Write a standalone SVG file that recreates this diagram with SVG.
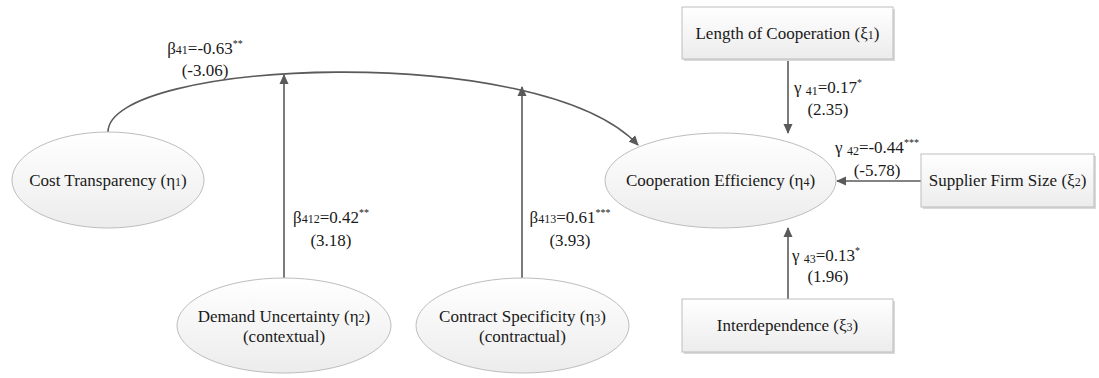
<svg xmlns="http://www.w3.org/2000/svg" width="1099" height="378" viewBox="0 0 1099 378">
<style>
text{font-family:'Liberation Serif','Times New Roman',serif;font-size:17px;fill:#1a1a1a;text-anchor:middle}
.sub{font-size:12px}
.sup{font-size:10px}
.node{fill:url(#g);stroke:#bdbdbd;stroke-width:1}
.shadow{fill:#d9d9d9}
.conn{fill:none;stroke:#5a5a5a;stroke-width:1.6}
</style>
<defs>
<linearGradient id="g" x1="0" y1="0" x2="0" y2="1">
<stop offset="0" stop-color="#ffffff"/>
<stop offset="1" stop-color="#ececec"/>
</linearGradient>
<marker id="a" markerWidth="10" markerHeight="10" refX="9" refY="5" orient="auto" markerUnits="userSpaceOnUse">
<path d="M0,0.5 L10,5 L0,9.5 Z" fill="#5a5a5a"/>
</marker>
</defs>
<g id="connectors">
<path class="conn" d="M108,132 C108,60 540,40 638,145" marker-end="url(#a)"/>
<line class="conn" x1="284" y1="278" x2="284" y2="75" marker-end="url(#a)"/>
<line class="conn" x1="522" y1="278" x2="522" y2="87" marker-end="url(#a)"/>
<line class="conn" x1="788" y1="59" x2="788" y2="133" marker-end="url(#a)"/>
<line class="conn" x1="921" y1="181" x2="837" y2="181" marker-end="url(#a)"/>
<line class="conn" x1="788" y1="299" x2="788" y2="228" marker-end="url(#a)"/>
</g>
<g id="labels">
<text x="205" y="54">β<tspan class="sub">41</tspan>=-0.63<tspan class="sup" dy="-7">**</tspan></text>
<text x="205" y="76">(-3.06)</text>
<text x="331" y="223">β<tspan class="sub">412</tspan>=0.42<tspan class="sup" dy="-7">**</tspan></text>
<text x="331" y="246">(3.18)</text>
<text x="570" y="223">β<tspan class="sub">413</tspan>=0.61<tspan class="sup" dy="-7">***</tspan></text>
<text x="570" y="246">(3.93)</text>
<text x="828" y="93">γ <tspan class="sub" dy="2">41</tspan><tspan dy="-2">=0.17</tspan><tspan class="sup" dy="-7">*</tspan></text>
<text x="828" y="115">(2.35)</text>
<text x="877" y="153">γ <tspan class="sub" dy="2">42</tspan><tspan dy="-2">=-0.44</tspan><tspan class="sup" dy="-7">***</tspan></text>
<text x="877" y="176">(-5.78)</text>
<text x="826" y="261">γ <tspan class="sub" dy="2">43</tspan><tspan dy="-2">=0.13</tspan><tspan class="sup" dy="-7">*</tspan></text>
<text x="828" y="282">(1.96)</text>
</g>
<g id="cost-transparency">
<ellipse class="node" cx="108" cy="180" rx="96" ry="48"/>
<text x="108" y="186">Cost Transparency (η<tspan class="sub">1</tspan>)</text>
</g>
<g id="demand-uncertainty">
<ellipse class="node" cx="284" cy="325.5" rx="107" ry="47.5"/>
<text x="284" y="322">Demand Uncertainty (η<tspan class="sub">2</tspan>)</text>
<text x="284" y="342">(contextual)</text>
</g>
<g id="contract-specificity">
<ellipse class="node" cx="522.5" cy="325.5" rx="106.5" ry="47.5"/>
<text x="522.5" y="322">Contract Specificity (η<tspan class="sub">3</tspan>)</text>
<text x="522.5" y="342">(contractual)</text>
</g>
<g id="cooperation-efficiency">
<ellipse class="node" cx="720.5" cy="180.5" rx="115.5" ry="47.5"/>
<text x="720.5" y="186">Cooperation Efficiency (η<tspan class="sub">4</tspan>)</text>
</g>
<g id="length-of-cooperation">
<rect class="shadow" x="684" y="9" width="211" height="52"/>
<rect class="node" x="682" y="7" width="211" height="52"/>
<text x="787.5" y="39">Length of Cooperation (ξ<tspan class="sub">1</tspan>)</text>
</g>
<g id="supplier-firm-size">
<rect class="shadow" x="923" y="156" width="173" height="53"/>
<rect class="node" x="921" y="154" width="173" height="53"/>
<text x="1007.5" y="186">Supplier Firm Size (ξ<tspan class="sub">2</tspan>)</text>
</g>
<g id="interdependence">
<rect class="shadow" x="684" y="301" width="211" height="53"/>
<rect class="node" x="682" y="299" width="211" height="53"/>
<text x="787.5" y="331">Interdependence (ξ<tspan class="sub">3</tspan>)</text>
</g>
</svg>
